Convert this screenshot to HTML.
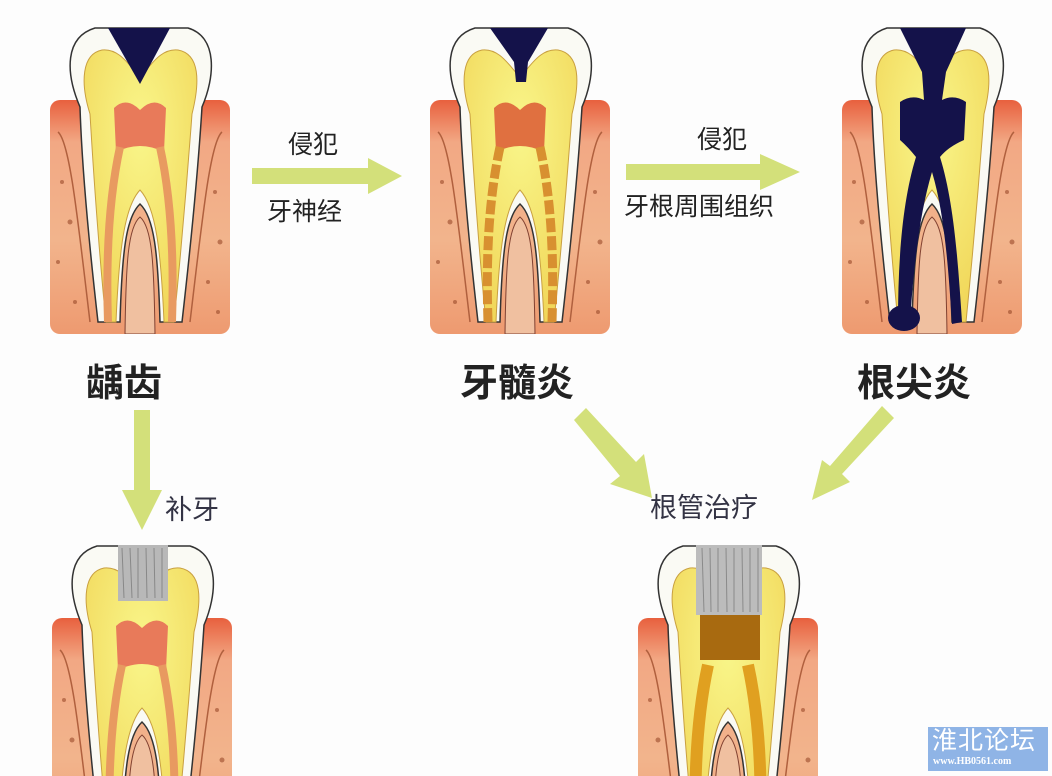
<!DOCTYPE html>
<html><head><meta charset="utf-8"><style>
html,body{margin:0;width:1052px;height:776px;overflow:hidden;background:#fff}
.l{position:absolute;font-family:"Liberation Sans","Noto Sans CJK SC",sans-serif;white-space:nowrap;color:#222;line-height:1.2}
</style></head><body>
<div style="position:relative;width:1052px;height:776px;overflow:hidden;background:#fdfdfd">
<svg width="1052" height="776" style="position:absolute;left:0;top:0">
<defs>
<linearGradient id="bone" x1="0" y1="0" x2="0" y2="1">
<stop offset="0" stop-color="#e8603e"/><stop offset="0.18" stop-color="#f2a884"/><stop offset="0.6" stop-color="#f2b48c"/><stop offset="1" stop-color="#ee9a70"/></linearGradient>
<radialGradient id="dent" cx="0.5" cy="0.3" r="0.7"><stop offset="0" stop-color="#f9f68a"/><stop offset="1" stop-color="#f1d75a"/></radialGradient>
<symbol id="base" viewBox="0 0 180 312">
<rect x="0" y="78" width="180" height="234" rx="10" fill="url(#bone)"/>
<path d="M8,110 C20,120 28,200 40,300 M172,110 C160,120 152,200 140,300" stroke="#b0603e" stroke-width="1.5" fill="none"/>
<g fill="#9a4a2a" opacity="0.6"><circle cx="12" cy="160" r="2"/><circle cx="20" cy="200" r="2.5"/><circle cx="8" cy="240" r="2"/><circle cx="25" cy="280" r="2"/><circle cx="165" cy="170" r="2"/><circle cx="170" cy="220" r="2.5"/><circle cx="158" cy="260" r="2"/><circle cx="168" cy="290" r="2"/><circle cx="90" cy="280" r="1.5"/></g>
<path d="M30,85 C15,50 15,15 45,6 L138,6 C168,15 165,55 152,85 C148,150 140,230 132,300 L110,300 C108,230 104,195 90,182 C76,195 72,230 70,300 L48,300 C40,230 32,150 30,85 Z" fill="#fafaf4" stroke="#333" stroke-width="1.5"/>
<path d="M40,92 C30,60 32,32 52,28 C70,26 80,45 90,55 C100,45 110,26 128,28 C150,32 150,60 142,92 C137,160 130,240 124,300 L114,300 C111,230 106,185 90,168 C74,185 69,230 66,300 L56,300 C50,240 44,160 40,92Z" fill="url(#dent)" stroke="#c9a040" stroke-width="1"/>
<path d="M90,195 C78,205 76,240 75,312 L105,312 C104,240 102,205 90,195Z" fill="#f0c0a0" stroke="#804030" stroke-width="1"/>
</symbol>
</defs>

<use href="#base" x="50" y="22" width="180" height="312"/>
<g transform="translate(50,22)">
<path d="M64,86 Q76,74 90,88 Q104,74 116,86 L114,130 Q90,118 66,130Z" fill="#e87a5a"/>
<path d="M70,125 C58,180 56,240 58,300 M110,125 C122,180 124,240 122,300" stroke="#e89a60" stroke-width="8" fill="none"/>
<path d="M58,6 L120,6 L90,62Z" fill="#14124a"/>
</g>

<use href="#base" x="430" y="22" width="180" height="312"/>
<g transform="translate(430,22)">
<path d="M64,86 Q76,74 90,88 Q104,74 116,86 L114,130 Q90,118 66,130Z" fill="#e07040"/>
<path d="M70,125 C58,180 56,240 58,300 M110,125 C122,180 124,240 122,300" stroke="#d89030" stroke-width="9" fill="none" stroke-dasharray="14 4"/>
<path d="M60,6 L118,6 L98,40 L96,60 L86,60 L84,40Z" fill="#14124a"/>
</g>

<use href="#base" x="842" y="22" width="180" height="312"/>
<g transform="translate(842,22)">
<path d="M58,6 L124,6 L104,50 L100,78 Q112,72 124,80 L122,118 Q106,125 98,135 C112,180 116,240 120,300 L110,302 C106,240 102,190 90,150 C78,190 72,240 68,300 L56,300 C56,240 60,180 74,135 Q66,125 58,118 L58,80 Q70,72 82,78 L80,50Z" fill="#14124a"/>
<ellipse cx="62" cy="296" rx="16" ry="13" fill="#14124a"/>
</g>

<use href="#base" x="52" y="540" width="180" height="312"/>
<g transform="translate(52,540)">
<path d="M64,86 Q76,74 90,88 Q104,74 116,86 L114,130 Q90,118 66,130Z" fill="#e87a5a"/>
<path d="M70,125 C58,180 56,240 58,300 M110,125 C122,180 124,240 122,300" stroke="#e89a60" stroke-width="8" fill="none"/>
<rect x="66" y="5" width="50" height="56" fill="#b8b8b8"/>
<path d="M70,8 L72,58 M78,8 L80,58 M86,8 L86,58 M94,8 L95,58 M102,8 L103,58 M110,8 L110,58" stroke="#888" stroke-width="1"/>
</g>

<use href="#base" x="638" y="540" width="180" height="312"/>
<g transform="translate(638,540)">
<path d="M70,125 C58,180 56,240 58,300 M110,125 C122,180 124,240 122,300" stroke="#e0a020" stroke-width="12" fill="none"/>
<rect x="62" y="72" width="60" height="48" fill="#a86a10"/>
<rect x="58" y="5" width="66" height="70" fill="#bcbcbc"/>
<path d="M64,8 L66,72 M72,8 L73,72 M80,8 L80,72 M88,8 L89,72 M96,8 L96,72 M104,8 L105,72 M112,8 L112,72 M120,8 L120,72" stroke="#8a8a8a" stroke-width="1"/>
</g>

<g fill="#d3e07a">
<polygon points="252,168 368,168 368,158 402,176 368,194 368,184 252,184"/>
<polygon points="626,164 760,164 760,154 800,172 760,190 760,180 626,180"/>
<polygon points="134,410 150,410 150,490 162,490 142,530 122,490 134,490"/>
<polygon points="574,420 586,408 636,462 644,454 652,498 610,484 620,476"/>
<polygon points="882,406 894,418 842,474 850,482 812,500 822,460 830,466"/>
</g>

<rect x="928" y="727" width="120" height="44" fill="#8fb4e6"/>
</svg>

<div class="l" style="left:86px;top:362px;font-size:38px;font-weight:bold">龋齿</div>
<div class="l" style="left:460px;top:362px;font-size:38px;font-weight:bold">牙髓炎</div>
<div class="l" style="left:857px;top:362px;font-size:38px;font-weight:bold">根尖炎</div>
<div class="l" style="left:288px;top:130px;font-size:25px">侵犯</div>
<div class="l" style="left:267px;top:197px;font-size:25px">牙神经</div>
<div class="l" style="left:697px;top:125px;font-size:25px">侵犯</div>
<div class="l" style="left:624px;top:192px;font-size:25px">牙根周围组织</div>
<div class="l" style="left:165px;top:494px;font-size:27px;color:#334">补牙</div>
<div class="l" style="left:650px;top:492px;font-size:27px;color:#334">根管治疗</div>
<div class="l" style="left:932px;top:726px;font-size:25px;color:#fff;letter-spacing:1px">淮北论坛</div>
<div class="l" style="left:933px;top:756px;font-size:10px;color:#fff;font-weight:bold;font-family:'Liberation Serif',serif">www.HB0561.com</div>
</div>
</body></html>
